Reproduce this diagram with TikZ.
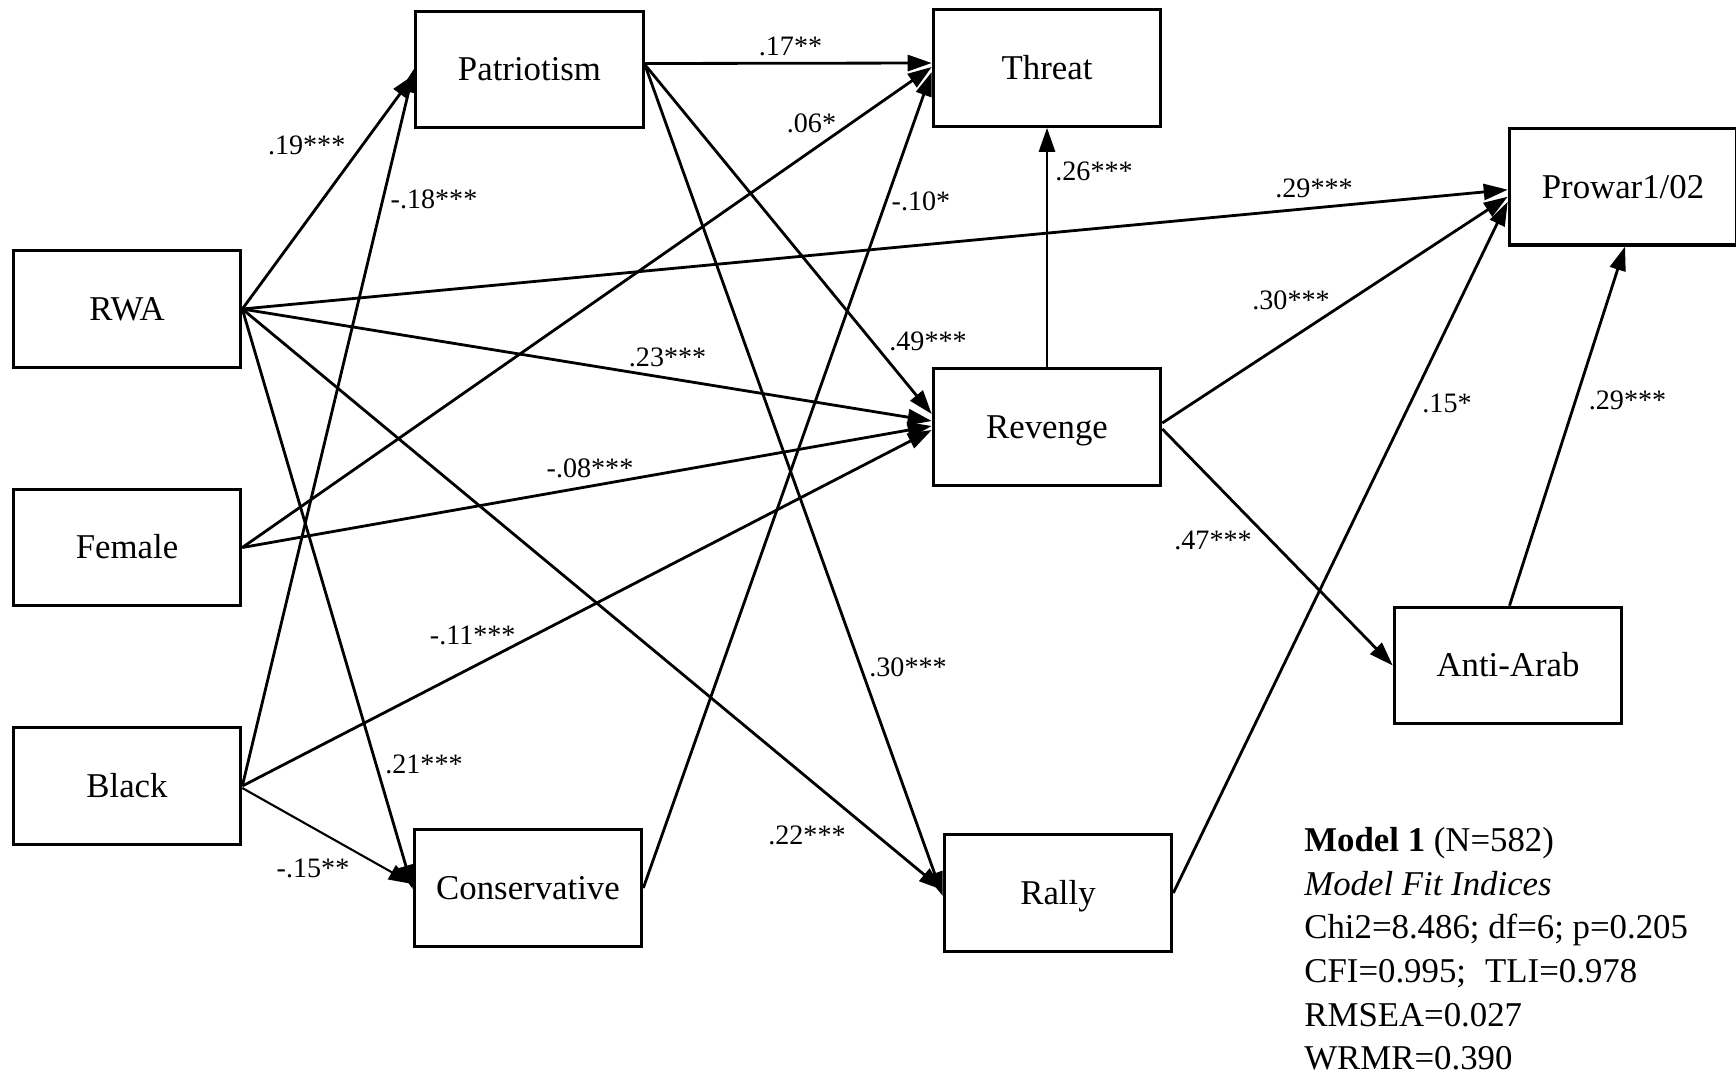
\documentclass[tikz,border=0pt]{standalone}
\usepackage{fontspec}
\setmainfont{Liberation Serif}
\usetikzlibrary{arrows.meta,calc}

\tikzset{
  var/.style={draw, line width=1.8pt, minimum width=4.55cm, minimum height=2.33cm,
    inner sep=0pt, text height=13pt, text depth=0pt,
    font=\fontsize{19.8pt}{24pt}\selectfont},
  arr/.style={line width=1.6pt, -{Triangle[length=4.8mm,width=3.2mm]}},
  coef/.style={inner sep=0pt, font=\fontsize{16pt}{19pt}\selectfont},
  fitline/.style={anchor=base west, inner sep=0pt, font=\fontsize{19.8pt}{24pt}\selectfont}
}

\begin{document}
\begin{tikzpicture}[x=0.02cm, y=-0.02cm]
\useasboundingbox (0,0) rectangle (1736,1076);

% variables
\node[var] (rwa)    at (127,309)    {RWA};
\node[var] (female) at (127,547.5)  {Female};
\node[var] (black)  at (127,786)    {Black};
\node[var] (pat)    at (529.5,69.5) {Patriotism};
\node[var] (cons)   at (528,888)    {Conservative};
\node[var] (threat) at (1047,68)    {Threat};
\node[var] (rev)    at (1047,427)   {Revenge};
\node[var] (rally)  at (1058,893)   {Rally};
\node[var] (prowar) at (1623,186.7) {Prowar1/02};
\node[var] (anti)   at (1508,665.5) {Anti-Arab};

% paths from the exogenous variables
\draw[arr] (rwa.east) -- ($(pat.west)+(0,5)$);
\draw[arr] (black.east) -- ($(pat.west)+(0,-1)$);
\draw[arr] (rwa.east) -- ($(prowar.west)+(0,3)$);
\draw[arr] (rwa.east) -- ($(rev.west)+(0,-6)$);
\draw[arr] (rwa.east) -- ($(cons.west)+(0,1)$);
\draw[arr] (rwa.east) -- ($(rally.west)+(0,-3)$);
\draw[arr] (female.east) -- ($(threat.west)+(0,-1)$);
\draw[arr] (female.east) -- ($(rev.west)+(0,-1)$);
\draw[arr] (black.east) -- ($(rev.west)+(0,3)$);
\draw[arr, line width=1.2pt] ($(black.east)+(0,2)$) -- ($(cons.west)+(0,-4)$);

% paths from the mediators
\draw[arr] ($(pat.east)+(0,-6)$) -- ($(threat.west)+(0,-5)$);
\draw[arr] ($(pat.east)+(0,-5)$) -- ($(rev.west)+(0,-13)$);
\draw[arr] ($(pat.east)+(0,-5)$) -- ($(rally.west)+(0,3)$);
\draw[arr] (cons.east) -- ($(threat.west)+(0,4)$);
\draw[arr] (rev.north) -- (threat.south);
\draw[arr] ($(rev.east)+(0,-4)$) -- ($(prowar.west)+(0,10)$);
\draw[arr] ($(rev.east)+(0,2)$) -- (anti.west);
\draw[arr] (rally.east) -- ($(prowar.west)+(0,15)$);
\draw[arr] ($(anti.north)+(1.5,0)$) -- ($(prowar.south)+(2,0)$);

% path coefficients
\node[coef] (c1)  at (306.7,145)   {.19***};
\node[coef] (c2)  at (434,199)     {-.18***};
\node[coef] (c3)  at (790.5,46.5)  {.17**};
\node[coef] (c4)  at (811.5,123)   {.06*};
\node[coef] (c5)  at (921,201.5)   {-.10*};
\node[coef] (c6)  at (1094,171.6)  {.26***};
\node[coef] (c7)  at (1314,188)    {.29***};
\node[coef] (c8)  at (928,341)     {.49***};
\node[coef] (c9)  at (667.6,357.6) {.23***};
\node[coef] (c10) at (1291,300)    {.30***};
\node[coef] (c11) at (1447,403)    {.15*};
\node[coef] (c12) at (1627.5,400.8){.29***};
\node[coef] (c13) at (590,468)     {-.08***};
\node[coef] (c14) at (1213,540)    {.47***};
\node[coef] (c15) at (472.7,635.5) {-.11***};
\node[coef] (c16) at (908,667.6)   {.30***};
\node[coef] (c17) at (424,764)     {.21***};
\node[coef] (c18) at (807,835)     {.22***};
\node[coef] (c19) at (313,868)     {-.15**};

% model summary
\node[fitline] (m1) at (1304,851.7) {\textbf{Model 1} (N=582)};
\node[fitline] (m2) at (1304,895.3) {\textit{Model Fit Indices}};
\node[fitline] (m3) at (1304,938.9) {Chi2=8.486; df=6; p=0.205};
\node[fitline] (m4) at (1304,982.5) {CFI=0.995;\hspace{0.55em}TLI=0.978};
\node[fitline] (m5) at (1304,1026.1){RMSEA=0.027};
\node[fitline] (m6) at (1304,1069.7){WRMR=0.390};
\end{tikzpicture}
\end{document}
